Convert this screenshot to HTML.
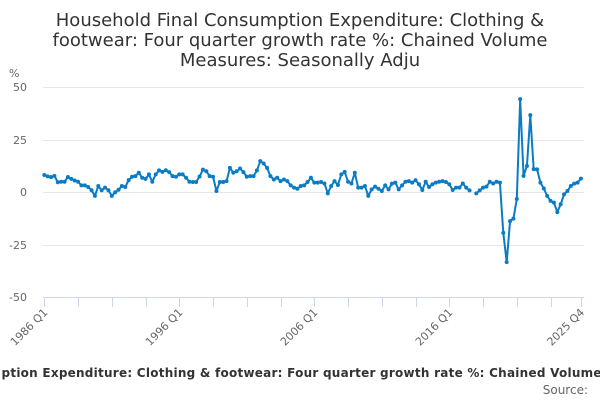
<!DOCTYPE html>
<html>
<head>
<meta charset="utf-8">
<style>
html,body{margin:0;padding:0;background:#fff;}
body{width:600px;height:400px;overflow:hidden;}
svg{display:block;font-family:"DejaVu Sans","Liberation Sans",sans-serif;}
</style>
</head>
<body>
<svg id="c" width="600" height="400" viewBox="0 0 600 400" xmlns="http://www.w3.org/2000/svg">
<rect width="600" height="400" fill="#fff"/>
<g font-size="18" fill="#333" text-anchor="middle">
<text x="300" y="26">Household Final Consumption Expenditure: Clothing &amp;</text>
<text x="300" y="46">footwear: Four quarter growth rate %: Chained Volume</text>
<text x="300" y="66">Measures: Seasonally Adju</text>
</g>
<g stroke="#e6e6e6" stroke-width="1">
<line x1="43" x2="584" y1="87.5" y2="87.5"/>
<line x1="43" x2="584" y1="140.5" y2="140.5"/>
<line x1="43" x2="584" y1="192.5" y2="192.5"/>
<line x1="43" x2="584" y1="245.5" y2="245.5"/>
</g>
<line x1="43" x2="584" y1="297.5" y2="297.5" stroke="#ccd6eb" stroke-width="1"/>
<g id="ticks" stroke="#ccd6eb" stroke-width="1"></g>
<g font-size="11" fill="#666" text-anchor="end">
<text x="27" y="91">50</text>
<text x="27" y="144">25</text>
<text x="27" y="196">0</text>
<text x="27" y="249">-25</text>
<text x="27" y="301">-50</text>
</g>
<text x="9" y="77" font-size="11" fill="#666">%</text>
<g font-size="11" fill="#666" text-anchor="end" id="xl"></g>
<g id="series"></g>
<text x="1.5" y="377" font-size="12" font-weight="bold" fill="#333" textLength="600" lengthAdjust="spacing">ption Expenditure: Clothing &amp; footwear: Four quarter growth rate %: Chained Volume</text>
<text x="588" y="394" font-size="12" fill="#666" text-anchor="end">Source:</text>
</svg>
<script>
(function(){
var v=[8.2,7.6,7.2,7.8,4.8,5.0,5.0,7.3,6.4,5.6,5.0,3.3,3.3,2.5,1.0,-1.7,3.0,1.0,2.2,1.0,
-1.7,0.0,1.2,3.0,2.5,5.8,7.4,7.7,9.3,6.9,6.4,8.5,5.0,8.5,10.4,9.7,10.5,9.6,7.7,7.4,
8.5,8.5,6.9,5.0,4.9,4.9,7.5,10.8,10.0,7.7,7.4,0.6,4.9,4.9,5.3,11.6,9.3,10.0,11.3,9.6,
7.4,7.7,7.7,10.4,14.8,13.7,11.6,7.7,6.1,6.9,5.3,6.1,5.3,3.3,2.2,1.7,
3.0,3.3,4.9,6.9,4.6,4.6,4.9,4.2,-0.5,3.0,5.3,3.5,8.5,9.7,5.0,4.2,9.3,2.2,2.2,3.0,
-1.7,1.4,2.7,1.7,0.6,3.3,1.4,4.1,4.6,1.4,3.3,5.0,5.3,4.6,5.7,3.8,1.1,5.0,2.5,3.8,
4.6,5.0,5.3,4.9,3.8,1.1,2.2,2.2,4.2,2.2,0.9,null,-0.5,0.9,2.2,2.7,5.0,4.2,5.0,4.6,
-19.3,-33.2,-13.7,-12.5,-3.2,44.3,7.8,12.5,36.7,11.0,10.9,4.6,1.8,-1.7,-4.1,-4.9,-9.4,-5.7,-1.0,0.6,
3.0,4.1,4.6,6.5];
var NS="http://www.w3.org/2000/svg";
function X(i){return 44.3+3.375*i;}
function Y(val){return 192.3-2.103*val;}
var g=document.getElementById('series');
var segs=[],cur=[];
for(var i=0;i<v.length;i++){
 if(v[i]===null){if(cur.length)segs.push(cur);cur=[];continue;}
 cur.push([X(i),Y(v[i])]);
}
if(cur.length)segs.push(cur);
segs.forEach(function(s){
 var p=document.createElementNS(NS,'path');
 p.setAttribute('d','M'+s.map(function(q){return q[0].toFixed(2)+' '+q[1].toFixed(2);}).join(' L'));
 p.setAttribute('fill','none');p.setAttribute('stroke','#0a7cc4');p.setAttribute('stroke-width','2');
 p.setAttribute('stroke-linejoin','round');p.setAttribute('stroke-linecap','round');
 g.appendChild(p);
});
segs.forEach(function(s){s.forEach(function(q){
 var c=document.createElementNS(NS,'circle');
 c.setAttribute('cx',q[0].toFixed(2));c.setAttribute('cy',q[1].toFixed(2));c.setAttribute('r','2');
 c.setAttribute('fill','#0a7cc4');g.appendChild(c);
});});
var t=document.getElementById('ticks');
var tk=[];for(var k=0;k<=150;k+=10)tk.push(k);tk.push(159);
tk.forEach(function(k){
 var l=document.createElementNS(NS,'line');var x=Math.round(X(k))+0.5;
 l.setAttribute('x1',x);l.setAttribute('x2',x);l.setAttribute('y1',297);l.setAttribute('y2',307);
 t.appendChild(l);
});
var xl=document.getElementById('xl');
[[0,'1986 Q1'],[40,'1996 Q1'],[80,'2006 Q1'],[120,'2016 Q1'],[159,'2025 Q4']].forEach(function(a){
 var tx=document.createElementNS(NS,'text');var x=X(a[0])+4,y=313;
 tx.setAttribute('x',x);tx.setAttribute('y',y);
 tx.setAttribute('transform','rotate(-45 '+x+' '+y+')');
 tx.textContent=a[1];xl.appendChild(tx);
});
})();
</script>
</body>
</html>
